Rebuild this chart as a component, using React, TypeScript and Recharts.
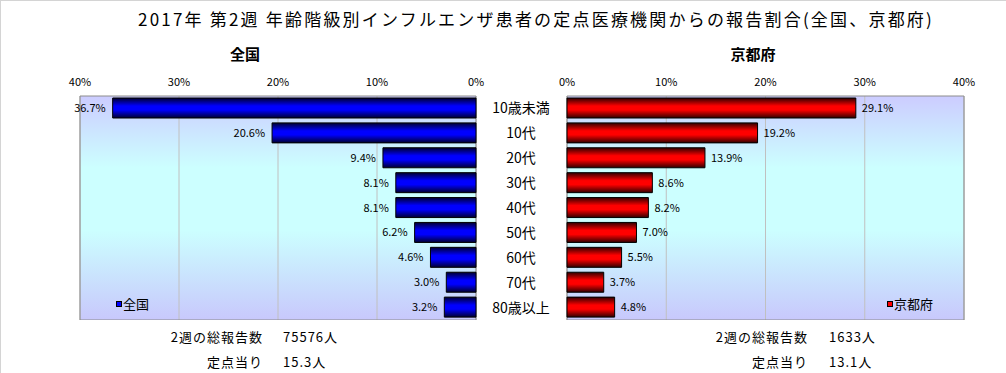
import {
  Bar,
  BarChart,
  CartesianGrid,
  LabelList,
  Legend,
  ReferenceArea,
  XAxis,
  YAxis,
} from "recharts";

const ageGroups = ["10歳未満", "10代", "20代", "30代", "40代", "50代", "60代", "70代", "80歳以上"];
const nationalShare = [36.7, 20.6, 9.4, 8.1, 8.1, 6.2, 4.6, 3.0, 3.2];
const kyotoShare = [29.1, 19.2, 13.9, 8.6, 8.2, 7.0, 5.5, 3.7, 4.8];
const percentTicks = [0, 10, 20, 30, 40];

const summaryLabels = ["2週の総報告数", "定点当り"];
const nationalSummary = ["75576人", "15.3人"];
const kyotoSummary = ["1633人", "13.1人"];

const rows = ageGroups.map((age, i) => ({
  age,
  national: nationalShare[i],
  kyoto: kyotoShare[i],
}));

const FONT = "'Noto Sans CJK JP', 'Noto Sans', sans-serif";

function PlotDefs({ barId, dark, bright }: { barId: string; dark: string; bright: string }) {
  return (
    <defs>
      <linearGradient id={`${barId}-bg`} x1="0" x2="0" y1="0" y2="1">
        <stop offset="0%" stopColor="#ccccff" />
        <stop offset="32%" stopColor="#ccffff" />
        <stop offset="60%" stopColor="#ccffff" />
        <stop offset="100%" stopColor="#c8c8fc" />
      </linearGradient>
      <linearGradient id={barId} x1="0" x2="0" y1="0" y2="1">
        <stop offset="0%" stopColor={dark} />
        <stop offset="40%" stopColor={bright} />
        <stop offset="60%" stopColor={bright} />
        <stop offset="100%" stopColor={dark} />
      </linearGradient>
    </defs>
  );
}

function AgeTick(props: any) {
  const { x, y, payload } = props;
  return (
    <text x={Number(x) + 45} y={Number(y)} dy="0.36em" textAnchor="middle" fontSize={14} fill="#000">
      {payload.value}
    </text>
  );
}

function leftLabel(p: any) {
  const x = Number(p.x);
  const w = Number(p.width);
  const edge = Math.min(x, x + w);
  return (
    <text x={edge - 7} y={Number(p.y) + Number(p.height) / 2} dy="0.36em" textAnchor="end" fontSize={11} fill="#000">
      {Number(p.value).toFixed(1)}%
    </text>
  );
}

function rightLabel(p: any) {
  const x = Number(p.x);
  const w = Number(p.width);
  const edge = Math.max(x, x + w);
  return (
    <text x={edge + 6} y={Number(p.y) + Number(p.height) / 2} dy="0.36em" textAnchor="start" fontSize={11} fill="#000">
      {Number(p.value).toFixed(1)}%
    </text>
  );
}

function legendFor(color: string) {
  return (props: any) => (
    <div style={{ display: "flex", alignItems: "center", fontSize: 13, lineHeight: "16px", color: "#000" }}>
      {(props.payload || []).map((p: any) => (
        <span key={p.value} style={{ display: "flex", alignItems: "center" }}>
          <span style={{ width: 4, height: 4, background: color, border: "1px solid #000", marginRight: 1 }} />
          {p.value}
        </span>
      ))}
    </div>
  );
}

const abs = (left: number, top: number, extra: object = {}) =>
  ({ position: "absolute", left, top, whiteSpace: "nowrap", ...extra }) as React.CSSProperties;

function Summary({ labelRight, valueLeft, values }: { labelRight: number; valueLeft: number; values: string[] }) {
  return (
    <>
      {summaryLabels.map((label, i) => (
        <div key={label}>
          <div style={abs(labelRight - 200, 326 + i * 25, { width: 200, textAlign: "right", fontSize: 13, letterSpacing: 1 })}>
            {label}
          </div>
          <div style={abs(valueLeft, 326 + i * 25, { fontSize: 13, letterSpacing: 1 })}>{values[i]}</div>
        </div>
      ))}
    </>
  );
}

export default function App() {
  return (
    <div
      style={{
        position: "absolute",
        left: 0,
        top: 0,
        width: 1006,
        height: 373,
        background: "#fff",
        borderLeft: "1px solid #d4d4d4",
        borderTop: "1px solid #d4d4d4",
        boxSizing: "border-box",
        fontFamily: FONT,
        color: "#000",
        overflow: "hidden",
      }}
    >
      <div style={abs(535, 5, { transform: "translateX(-50%)", fontSize: 17, letterSpacing: 2.2 })}>
        2017年 第2週 年齢階級別インフルエンザ患者の定点医療機関からの報告割合(全国、京都府)
      </div>
      <div style={abs(244, 42, { transform: "translateX(-50%)", fontSize: 15, fontWeight: "bold" })}>全国</div>
      <div style={abs(752, 42, { transform: "translateX(-50%)", fontSize: 15, fontWeight: "bold" })}>京都府</div>

      <div style={abs(0, 60)}>
        <BarChart width={566} height={259} data={rows} layout="vertical" barSize={20} margin={{ top: 0, right: 0, bottom: 0, left: 79 }}>
          <PlotDefs barId="blueBar" dark="#000030" bright="#0000ff" />
          <CartesianGrid horizontal={false} stroke="#c0c0c0" fill="url(#blueBar-bg)" fillOpacity={1} />
          <ReferenceArea x1={0} x2={40} fill="none" fillOpacity={0} stroke="#8c8c8c" strokeOpacity={1} ifOverflow="visible" />
          <XAxis
            type="number"
            domain={[0, 40]}
            reversed
            orientation="top"
            ticks={percentTicks}
            interval={0}
            tickFormatter={(v) => `${v}%`}
            axisLine={false}
            tickLine={false}
            tickSize={0}
            tickMargin={10}
            height={35}
            tick={{ fill: "#000", fontSize: 11 }}
          />
          <YAxis
            type="category"
            dataKey="age"
            orientation="right"
            width={91}
            axisLine={false}
            tickLine={false}
            tickSize={0}
            tickMargin={0}
            interval={0}
            tick={<AgeTick />}
          />
          <Bar dataKey="national" name="全国" fill="url(#blueBar)" stroke="#000" strokeWidth={1} isAnimationActive={false}>
            <LabelList dataKey="national" content={leftLabel} />
          </Bar>
          <Legend
            layout="horizontal"
            verticalAlign="middle"
            align="center"
            content={legendFor("#0000ff")}
            wrapperStyle={{ left: 115, top: 235, width: "auto", height: "auto" }}
          />
        </BarChart>
      </div>

      <div style={abs(526, 60)}>
        <BarChart width={480} height={259} data={rows} layout="vertical" barSize={20} margin={{ top: 0, right: 43, bottom: 0, left: 40 }}>
          <PlotDefs barId="redBar" dark="#300000" bright="#ff0000" />
          <CartesianGrid horizontal={false} stroke="#c0c0c0" fill="url(#redBar-bg)" fillOpacity={1} />
          <ReferenceArea x1={0} x2={40} fill="none" fillOpacity={0} stroke="#8c8c8c" strokeOpacity={1} ifOverflow="visible" />
          <XAxis
            type="number"
            domain={[0, 40]}
            orientation="top"
            ticks={percentTicks}
            interval={0}
            tickFormatter={(v) => `${v}%`}
            axisLine={false}
            tickLine={false}
            tickSize={0}
            tickMargin={10}
            height={35}
            tick={{ fill: "#000", fontSize: 11 }}
          />
          <YAxis type="category" dataKey="age" hide width={0} />
          <Bar dataKey="kyoto" name="京都府" fill="url(#redBar)" stroke="#000" strokeWidth={1} isAnimationActive={false}>
            <LabelList dataKey="kyoto" content={rightLabel} />
          </Bar>
          <Legend
            layout="horizontal"
            verticalAlign="middle"
            align="center"
            content={legendFor("#ff0000")}
            wrapperStyle={{ left: 360, top: 235, width: "auto", height: "auto" }}
          />
        </BarChart>
      </div>

      <Summary labelRight={262} valueLeft={282} values={nationalSummary} />
      <Summary labelRight={807} valueLeft={828} values={kyotoSummary} />
    </div>
  );
}
